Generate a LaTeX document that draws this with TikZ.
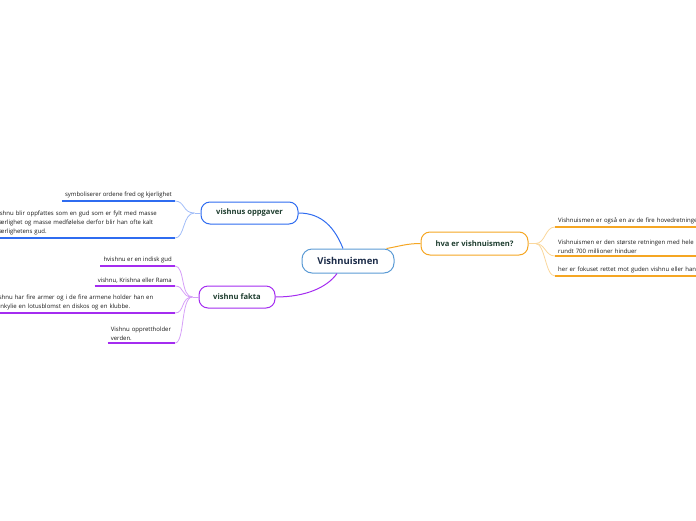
\documentclass[tikz,border=0pt]{standalone}
\usepackage{fontspec}
\setmainfont{Open Sans}
\definecolor{coreblue}{HTML}{5B9BD5}
\definecolor{vblue}{HTML}{2F6CF0}
\definecolor{vpurple}{HTML}{A42CF0}
\definecolor{vorange}{HTML}{F5A623}
\definecolor{labelgreen}{HTML}{1E3D2F}
\definecolor{corenavy}{HTML}{1B2B48}

\begin{document}
\begin{tikzpicture}[x=1pt, y=-1pt,
  topic/.style={draw=#1, rounded corners=9pt, fill=white, line width=1pt,
    font=\fontsize{7.6}{9}\selectfont\bfseries, text=labelgreen, inner sep=0pt,
    minimum height=22pt},
  leaf/.style={font=\fontsize{6}{9}\selectfont, inner xsep=3pt, inner ysep=2.5pt,
    align=left, text=black!90},
  under/.style={draw=#1, line width=1.3pt},
  twig/.style={draw=#1!45, line width=0.8pt},
  branch/.style={draw=#1, line width=1pt},
]
  \clip (0,0) rectangle (696,520);

  % Centre and main topics
  \node[draw=coreblue, rounded corners=10pt, fill=white, line width=1pt,
    font=\fontsize{9.5}{11}\selectfont\bfseries, text=corenavy,
    minimum width=92pt, minimum height=24pt] (c) at (348,261) {Vishnuismen};
  \node[topic=vblue, minimum width=97pt] (b) at (249.5,213) {vishnus oppgaver};
  \node[topic=vpurple, minimum width=76pt] (p) at (237,297) {vishnu fakta};
  \node[topic=vorange, minimum width=107pt, minimum height=23pt] (o) at (474.5,243.5) {hva er vishnuismen?};

  \draw[branch=vblue] ([xshift=-5pt]c.north) .. controls +(-8,-20) and +(24,0) .. (b.east);
  \draw[branch=vpurple] ([xshift=-11pt]c.south) .. controls +(-10,14) and +(30,0) .. (p.east);
  \draw[branch=vorange] ([xshift=-8pt]c.north east) .. controls +(12,-2) and +(-14,0) .. (o.west);

  % vishnus oppgaver
  \node[leaf, anchor=south east] (b1) at (175,201) {symboliserer ordene fred og kjerlighet};
  \node[leaf, anchor=south east, text width=177pt] (b2) at (175,238)
    {Vishnu blir oppfattes som en gud som er fylt med masse\\
     kjærlighet og masse medfølelse derfor blir han ofte kalt\\
     kjærlighetens gud.};

  % vishnu fakta
  \node[leaf, anchor=south east] (p1) at (175,266) {hvishnu er en indisk gud};
  \node[leaf, anchor=south east] (p2) at (175,286) {vishnu, Krishna eller Rama};
  \node[leaf, anchor=south east, text width=178pt] (p3) at (175,313)
    {Vishnu har fire armer og i de fire armene holder han en\\
     konkylie en lotusblomst en diskos og en klubbe.};
  \node[leaf, anchor=south east, text width=61pt] (p4) at (175,343)
    {Vishnu opprettholder\\ verden.};

  % hva er vishnuismen?
  \node[leaf, anchor=south west, text width=200pt] (o1) at (555,227)
    {Vishnuismen er også en av de fire hovedretningene innen hinduismen};
  \node[leaf, anchor=south west, text width=200pt] (o2) at (555,256)
    {Vishnuismen er den største retningen med hele 70\% av hinduene\\
     rundt 700 millioner hinduer};
  \node[leaf, anchor=south west, text width=200pt] (o3) at (555,276)
    {her er fokuset rettet mot guden vishnu eller hans avatarer};

  \coordinate (bj) at ([xshift=-6pt]b.west);
  \coordinate (pj) at ([xshift=-6pt]p.west);
  \coordinate (oj) at ([xshift=7pt]o.east);
  \draw[twig=vblue] (b.west) -- (bj);
  \draw[twig=vpurple] (p.west) -- (pj);
  \draw[twig=vorange] (o.east) -- (oj);

  \foreach \n in {b1,b2} {
    \draw[twig=vblue] (bj) .. controls +(-12,0) and +(10,0) .. (\n.south east);
    \draw[under=vblue] (\n.south west) -- (\n.south east);
  }
  \foreach \n in {p1,p2,p3,p4} {
    \draw[twig=vpurple] (pj) .. controls +(-12,0) and +(10,0) .. (\n.south east);
    \draw[under=vpurple] (\n.south west) -- (\n.south east);
  }
  \foreach \n in {o1,o2,o3} {
    \draw[twig=vorange] (oj) .. controls +(10,0) and +(-10,0) .. (\n.south west);
    \draw[under=vorange] (\n.south west) -- (\n.south east);
  }
\end{tikzpicture}
\end{document}
